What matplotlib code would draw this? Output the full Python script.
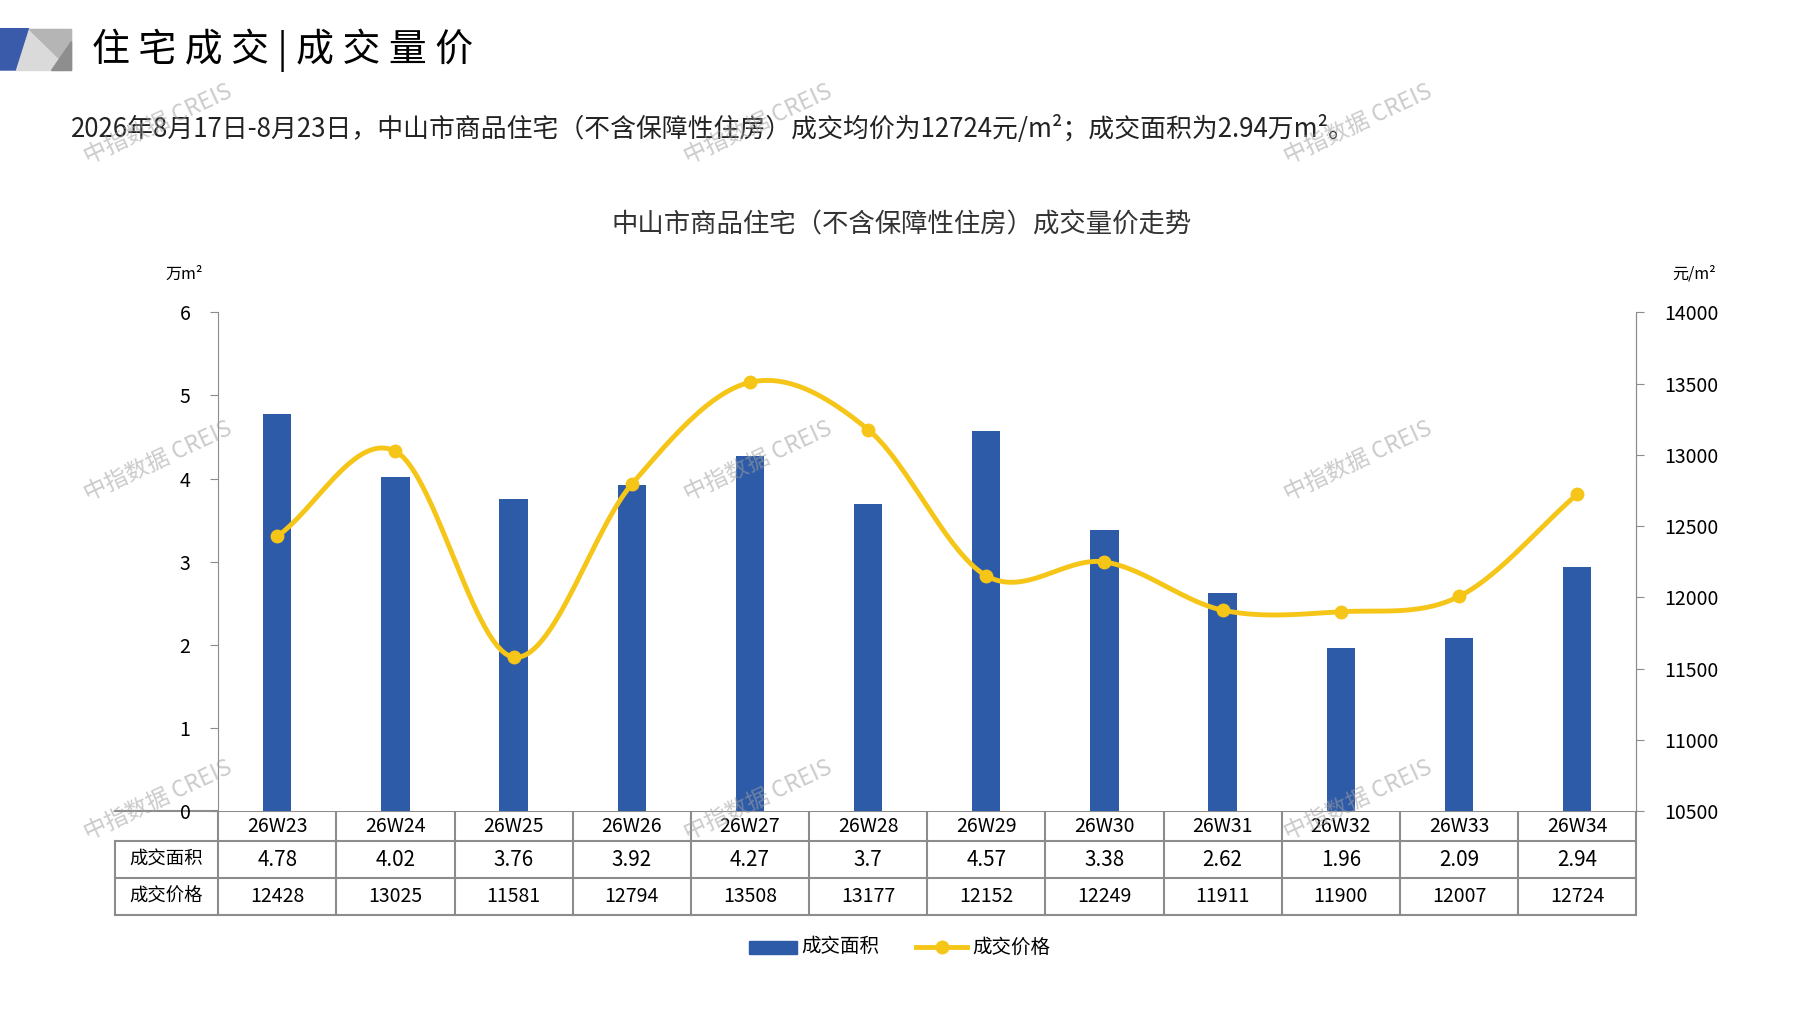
import matplotlib
matplotlib.use("Agg")
import matplotlib.pyplot as plt
import numpy as np
from matplotlib.patches import Polygon

plt.rcParams['font.family'] = ['Noto Sans CJK SC', 'DejaVu Sans']

weeks = ["26W23","26W24","26W25","26W26","26W27","26W28","26W29","26W30","26W31","26W32","26W33","26W34"]
area = [4.78, 4.02, 3.76, 3.92, 4.27, 3.7, 4.57, 3.38, 2.62, 1.96, 2.09, 2.94]
area_labels = ["4.78","4.02","3.76","3.92","4.27","3.7","4.57","3.38","2.62","1.96","2.09","2.94"]
price = [12428, 13025, 11581, 12794, 13508, 13177, 12152, 12249, 11911, 11900, 12007, 12724]
left_ticks = [0, 1, 2, 3, 4, 5, 6]
right_ticks = [10500, 11000, 11500, 12000, 12500, 13000, 13500, 14000]

W, H = 1565.0, 880.0
BLUE = "#2E5BA8"
YEL = "#F5C518"
GRID = "#8c8c8c"

fig = plt.figure(figsize=(17.97, 10.10), dpi=100)
s = 1797 / W
def fs(px):
    return px * s * 72 / 100

ov = fig.add_axes([0, 0, 1, 1])
ov.set_xlim(0, W); ov.set_ylim(H, 0); ov.axis('off')
ov.add_patch(Polygon([[0, 25], [25, 25], [14, 61], [0, 61]], closed=True, color="#3A5BA9"))
ov.add_patch(Polygon([[25, 25], [62, 25], [62, 61], [14, 61]], closed=True, color="#DADADA"))
ov.add_patch(Polygon([[25, 25], [62, 25], [62, 61]], closed=True, color="#B5B5B5"))
ov.add_patch(Polygon([[62, 36], [62, 61], [44, 61]], closed=True, color="#8E8E8E"))
ov.text(80, 44, "住 宅 成 交 | 成 交 量 价", fontsize=fs(33), va='center', ha='left', color='black')
ov.text(62, 112, "2026年8月17日-8月23日，中山市商品住宅（不含保障性住房）成交均价为12724元/m²；成交面积为2.94万m²。",
        fontsize=fs(22.5), va='center', ha='left', color='#222222')
ov.text(785, 196, "中山市商品住宅（不含保障性住房）成交量价走势", fontsize=fs(23), va='center', ha='center', color='#333333')
ov.text(160, 239, "万m²", fontsize=fs(14), va='center', ha='center')
ov.text(1475, 239, "元/m²", fontsize=fs(14), va='center', ha='center')

L, R, T, B = 190, 1425, 272, 707
ax = fig.add_axes([L / W, 1 - B / H, (R - L) / W, (B - T) / H])
n = len(weeks)
x = np.arange(n)
ax.bar(x, area, width=0.24, color=BLUE, zorder=2)
ax.set_xlim(-0.5, n - 0.5)
ax.set_ylim(0, 6)
ax.set_yticks(left_ticks)
ax.set_xticks([])
for sp in ['top', 'bottom']:
    ax.spines[sp].set_visible(False)
ax.spines['left'].set_color(GRID)
ax.spines['right'].set_color(GRID)
ax.tick_params(axis='y', colors=GRID, labelcolor='black', labelsize=fs(17), length=6, pad=14)

ax2 = ax.twinx()
ax2.set_ylim(10500, 14000)
ax2.set_yticks(right_ticks)
for sp in ['top', 'bottom', 'left']:
    ax2.spines[sp].set_visible(False)
ax2.spines['right'].set_color(GRID)
ax2.tick_params(axis='y', colors=GRID, labelcolor='black', labelsize=fs(17), length=6, pad=14)

px = np.array(x, float); py = np.array(price, float)
P = np.vstack([np.r_[2 * px[0] - px[1], px, 2 * px[-1] - px[-2]],
               np.r_[2 * py[0] - py[1], py, 2 * py[-1] - py[-2]]]).T
sx, sy = [], []
t = np.linspace(0, 1, 30)
for i in range(1, len(P) - 2):
    p0, p1, p2, p3 = P[i - 1], P[i], P[i + 1], P[i + 2]
    for tt in t:
        c = 0.5 * ((2 * p1) + (-p0 + p2) * tt + (2 * p0 - 5 * p1 + 4 * p2 - p3) * tt ** 2 + (-p0 + 3 * p1 - 3 * p2 + p3) * tt ** 3)
        sx.append(c[0]); sy.append(c[1])
ax2.plot(sx, sy, color=YEL, lw=3.5, zorder=3)
ax2.plot(px, py, 'o', color=YEL, ms=9, zorder=4)

cw = (R - L) / n
rows = [B, 733, 765, 797]
for yv in rows:
    ov.plot([100, R], [yv, yv], color=GRID, lw=1.5)
ov.plot([100, 100], [733, 797], color=GRID, lw=1.5)
for i in range(n + 1):
    xv = L + i * cw
    ov.plot([xv, xv], [B, 797], color=GRID, lw=1.5)
ov.text(145, 749, "成交面积", fontsize=fs(16), ha='center', va='center')
ov.text(145, 781, "成交价格", fontsize=fs(16), ha='center', va='center')
for i in range(n):
    cx = L + (i + 0.5) * cw
    ov.text(cx, 720, weeks[i], fontsize=fs(17), ha='center', va='center')
    ov.text(cx, 749, area_labels[i], fontsize=fs(18), ha='center', va='center')
    ov.text(cx, 781, str(price[i]), fontsize=fs(17), ha='center', va='center')

ov.add_patch(plt.Rectangle((652, 820), 42, 11, color=BLUE))
ov.text(698, 825, "成交面积", fontsize=fs(17), ha='left', va='center')
ov.plot([798, 842], [825, 825], color=YEL, lw=3.5)
ov.plot([820], [825], 'o', color=YEL, ms=9)
ov.text(847, 825, "成交价格", fontsize=fs(17), ha='left', va='center')

top = fig.add_axes([0, 0, 1, 1], zorder=10)
top.set_xlim(0, W); top.set_ylim(H, 0); top.axis('off'); top.patch.set_alpha(0)
for wx in [138, 660, 1183]:
    for wy in [108, 402, 697]:
        top.text(wx, wy, "中指数据 CREIS", fontsize=fs(20), color='#a0a0a0', alpha=0.55,
                 rotation=25, ha='center', va='center')

fig.savefig("out.png", dpi=100)
